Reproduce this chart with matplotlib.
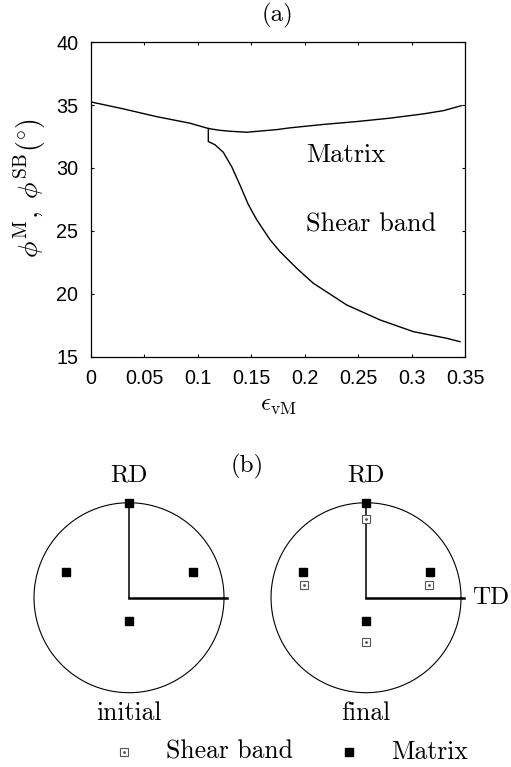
import numpy as np
import matplotlib
matplotlib.use("Agg")
import matplotlib.pyplot as plt

plt.rcParams["font.family"] = ["Liberation Sans", "DejaVu Sans"]
plt.rcParams["mathtext.fontset"] = "cm"

# (a) misorientation angle vs von Mises strain
strain_m = [0.0, 0.0302, 0.0615, 0.0926, 0.1098, 0.120, 0.130, 0.1457, 0.1738,
            0.1862, 0.2174, 0.2487, 0.2798, 0.311, 0.3300, 0.3465]
phi_m = [35.25, 34.70, 34.08, 33.56, 33.14, 33.00, 32.92, 32.84, 33.05,
         33.19, 33.46, 33.69, 33.96, 34.30, 34.56, 34.95]

strain_sb = [0.1098, 0.1098, 0.116, 0.1238, 0.1317, 0.1394, 0.1472, 0.155,
             0.1675, 0.1769, 0.1925, 0.208, 0.2393, 0.2705, 0.3016, 0.3329, 0.3453]
phi_sb = [33.14, 32.10, 31.85, 31.25, 30.1, 28.65, 27.1, 25.9,
          24.3, 23.35, 22.03, 20.84, 19.11, 17.92, 16.99, 16.46, 16.19]

xticks = [0, 0.05, 0.1, 0.15, 0.2, 0.25, 0.3, 0.35]
xticklabels = ["0", "0.05", "0.1", "0.15", "0.2", "0.25", "0.3", "0.35"]
yticks = [15, 20, 25, 30, 35, 40]

# (b) pole figures, unit circle radius
matrix_x = [0.0, -0.667, 0.67, 0.0]
matrix_y = [1.0, 0.27, 0.27, -0.242]
band_x = [0.0, -0.653, 0.66, 0.0]
band_y = [0.824, 0.13, 0.13, -0.467]

serif = "cmr10"

fig = plt.figure(figsize=(5.11, 7.67), dpi=100)

ax = fig.add_axes([0.178, 0.535, 0.732, 0.410])
ax.plot(strain_m, phi_m, color="black", lw=1.0)
ax.plot(strain_sb, phi_sb, color="black", lw=1.0)
ax.set_xlim(0, 0.35)
ax.set_ylim(15, 40)
ax.set_xticks(xticks)
ax.set_xticklabels(xticklabels)
ax.set_yticks(yticks)
ax.tick_params(direction="in", length=2.2, width=0.8, top=True, right=True,
               labelsize=14.2)
ax.tick_params(axis="x", pad=9)
ax.tick_params(axis="y", pad=9)
for s in ax.spines.values():
    s.set_linewidth(0.9)
ax.text(0.2012, 30.48, "Matrix", family=serif, fontsize=19, va="baseline")
ax.text(0.2012, 24.94, "Shear band", family=serif, fontsize=19, va="baseline")
ax.set_xlabel(r"$\epsilon_{\mathrm{vM}}$", fontsize=18, va="center")
ax.xaxis.set_label_coords(0.5, -0.155)
ax.set_ylabel(r"$\phi^{\mathrm{M}},\ \phi^{\mathrm{SB}}(^{\circ})$", fontsize=20,
              va="center")
ax.yaxis.set_label_coords(-0.163, 0.535)
fig.text(277 / 511, 1 - 15 / 767, "(a)", family=serif, fontsize=18,
         ha="center", va="center")

# bottom panel in units of circle radius
bx = fig.add_axes([0, 0, 1, 347 / 767])
bx.set_xlim(-1.358, 4.021)
bx.set_ylim(-1.782, 1.871)
bx.axis("off")

offsets = [0.0, 2.495]
t = np.linspace(0, 2 * np.pi, 400)
for k, dx in enumerate(offsets):
    bx.plot(dx + np.cos(t), np.sin(t), color="black", lw=0.8)
    bx.plot([dx, dx], [0, 1], color="black", lw=1.1)
    bx.plot([dx, dx + 1.035], [0, 0], color="black", lw=1.8)
    bx.plot(np.array(matrix_x) + dx, matrix_y, "s", color="black", ms=5.2,
            ls="none")
    if k == 1:
        bx.plot(np.array(band_x) + dx, band_y, "s", mfc="white", mec="#555555",
                mew=0.8, ms=5.2, ls="none")
        bx.plot(np.array(band_x) + dx, band_y, "o", color="#555555", ms=1.0,
                ls="none")
    bx.text(dx, 1.29, "RD", family=serif, fontsize=18, ha="center", va="center")

bx.text(1.239, 1.379, "(b)", family=serif, fontsize=18, ha="center", va="center")
bx.text(3.607, 0.0, "TD", family=serif, fontsize=18, ha="left", va="center")
bx.text(0.0, -1.214, "initial", family=serif, fontsize=18.5, ha="center",
        va="center")
bx.text(2.495, -1.214, "final", family=serif, fontsize=18.5, ha="center",
        va="center")

# legend
bx.plot([-0.053], [-1.621], "s", mfc="white", mec="#555555", mew=0.8, ms=5.2)
bx.plot([-0.053], [-1.621], "o", color="#555555", ms=1.0)
bx.text(0.386, -1.621, "Shear band", family=serif, fontsize=18.5, ha="left",
        va="center")
bx.plot([2.316], [-1.621], "s", color="black", ms=5.2)
bx.text(2.755, -1.621, "Matrix", family=serif, fontsize=18.5, ha="left",
        va="center")

fig.savefig("out.png", dpi=100)
